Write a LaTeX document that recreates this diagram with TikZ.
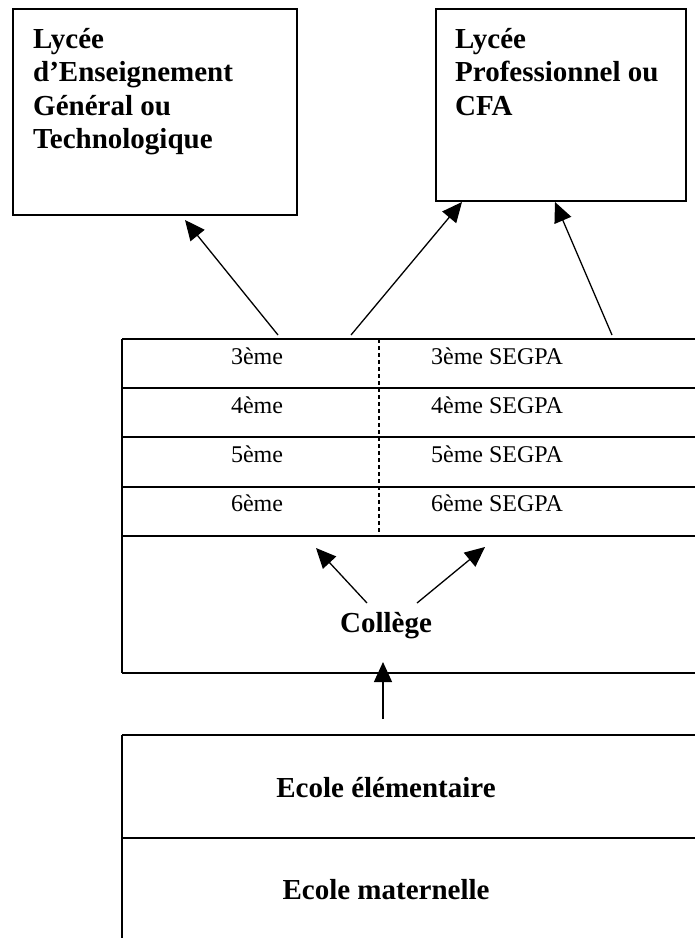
\documentclass[tikz,border=0pt]{standalone}
\usepackage{fontspec}
\setmainfont{Liberation Serif}
\usetikzlibrary{arrows.meta}

\begin{document}
\begin{tikzpicture}[x=1pt, y=-1pt,
frame/.style={draw, line width=2.2pt, inner sep=0pt},
rule/.style={line width=2.2pt},
title/.style={align=left, anchor=north west, inner sep=0pt, font=\fontsize{29}{33.5}\selectfont\bfseries},
level/.style={anchor=base, inner sep=0pt, font=\fontsize{24}{28}\selectfont},
school/.style={anchor=base, inner sep=0pt, font=\fontsize{29}{33.5}\selectfont\bfseries},
arr/.style={line width=1.3pt, -{Triangle[length=20pt, width=18pt]}}]
\useasboundingbox (0,0) rectangle (695,938);
\clip (0,0) rectangle (695,938);
%================================================================
% Lycees
\node[frame, anchor=north west, minimum width=284pt, minimum height=206pt] (lgt) at (12,8) {};
\node[title] (lgtname) at (33,28) {Lycée\\d’Enseignement\\Général ou\\Technologique};

\node[frame, anchor=north west, minimum width=250pt, minimum height=192pt] (lp) at (435,8) {};
\node[title] (lpname) at (455,28) {Lycée\\Professionnel ou\\CFA};

%================================================================
% College
\draw[rule] (122,339) -- (122,673);
\foreach \y in {339,388,437,487,536,673}
  \draw[rule] (122,\y) -- (700,\y);
\draw[line width=1.1pt, dash pattern=on 4pt off 3pt] (379,339) -- (379,536);

\foreach \n [count=\i from 0] in {3,4,5,6} {
  \node[level] (gen\n) at (257,364+49.2*\i) {\n ème};
  \node[level] (segpa\n) at (497,364+49.2*\i) {\n ème SEGPA};
}

\node[school] (college) at (386,632) {Collège};

%================================================================
% Ecoles
\draw[rule] (122,735) -- (122,940);
\draw[rule] (122,735) -- (700,735);
\draw[rule] (122,838) -- (700,838);
\node[school] (elem) at (386,797) {Ecole élémentaire};
\node[school] (mat) at (386,899) {Ecole maternelle};

%================================================================
% Arrows
\coordinate (g1) at (278,335);  \coordinate (t1) at (185,220);
\coordinate (g2) at (351,335);  \coordinate (t2) at (462,202);
\coordinate (s1) at (612,335);  \coordinate (t3) at (555,202);
\coordinate (c1) at (367,603);  \coordinate (u1) at (316,548);
\coordinate (c2) at (417,603);  \coordinate (u2) at (485,547);
\coordinate (e1) at (383,719);  \coordinate (u3) at (383,662);

\draw[arr] (g1) -- (t1);
\draw[arr] (g2) -- (t2);
\draw[arr] (s1) -- (t3);
\draw[arr] (c1) -- (u1);
\draw[arr] (c2) -- (u2);
\draw[arr] (e1) -- (u3);

%================================================================
\end{tikzpicture}
\end{document}
